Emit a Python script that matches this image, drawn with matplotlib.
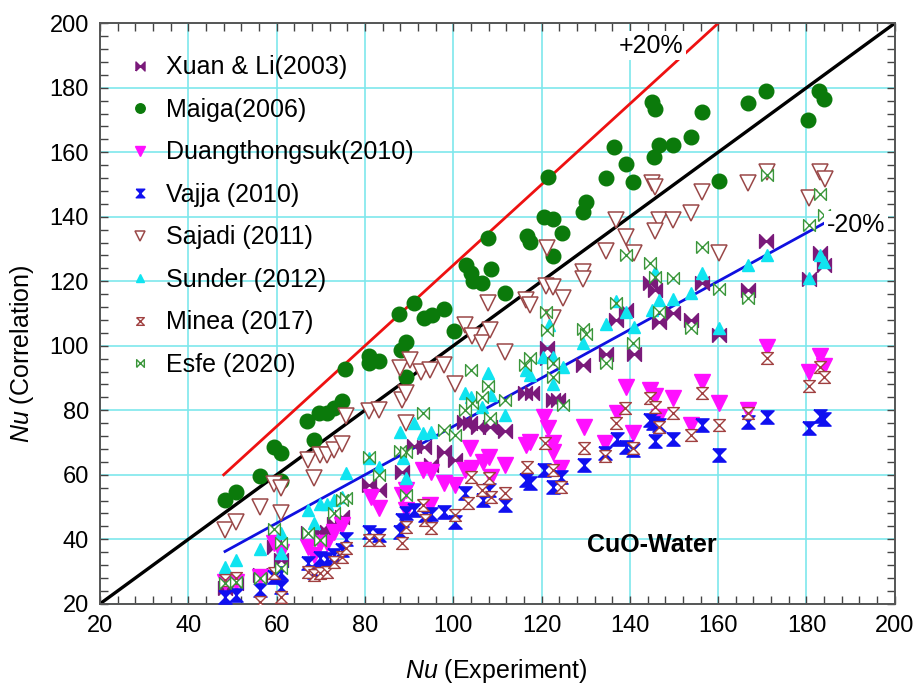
import matplotlib
matplotlib.use('Agg')
import matplotlib.pyplot as plt
from matplotlib.ticker import MultipleLocator

plt.rcParams['font.family'] = ['Liberation Sans', 'DejaVu Sans']
plt.rcParams['mathtext.fontset'] = 'custom'
plt.rcParams['mathtext.it'] = 'Liberation Sans:italic'
plt.rcParams['mathtext.rm'] = 'Liberation Sans'

# ---- Nu (experiment) vs Nu (correlation), CuO-water ----
xuan_x = [48.3, 50.8, 56.2, 59.4, 61.0, 67.0, 69.8, 71.5, 73.0, 74.9, 81.0, 83.2, 88.3, 91.1,
          93.4, 95.0, 97.8, 100.3, 102.4, 103.8, 105.7, 108.3, 111.7, 116.3, 117.8, 121.2,
          121.2, 122.5, 123.8, 129.4, 134.6, 136.9, 139.1, 141.0, 144.6, 145.7, 146.7, 149.7,
          153.8, 156.3, 160.1, 166.8, 170.8, 180.5, 183.1, 184.0]
xuan_y = [24.8, 26.4, 28.9, 37.7, 33.6, 41.9, 42.4, 42.4, 44.7, 47.0, 56.8, 55.3, 61.0, 68.9,
          68.7, 63.0, 67.2, 64.6, 76.5, 76.0, 74.9, 74.9, 73.6, 85.5, 85.5, 99.2,
          96.1, 83.2, 83.2, 94.0, 97.5, 108.0, 111.1, 97.5, 119.4, 117.3, 107.5, 110.1,
          108.0, 119.4, 103.3, 117.3, 132.6, 120.6, 128.7, 125.0]

maiga_x = [48.3, 50.8, 56.2, 59.4, 61.0, 61.0, 66.8, 68.5, 69.7, 71.3, 73.0, 74.9, 75.5, 81.0,
           81.0, 83.2, 87.7, 88.1, 89.4, 89.2, 91.2, 93.4, 95.1, 97.8, 100.2, 102.8, 104.0,
           104.4, 106.4, 107.9, 108.6, 111.7, 116.6, 117.4, 120.6, 121.4, 122.5, 122.5, 124.7,
           129.4, 130.0, 134.5, 136.4, 139.1, 140.8, 144.9, 145.7, 145.5, 146.7, 149.7, 153.8,
           156.3, 160.1, 166.7, 170.8, 180.4, 182.9, 184.0]
maiga_y = [52.1, 54.8, 59.6, 68.7, 66.7, 58.2, 76.7, 70.8, 79.1, 79.1, 80.6, 82.9, 92.7, 96.8,
           94.6, 95.3, 109.9, 98.7, 101.3, 90.4, 113.2, 108.5, 109.5, 111.3, 104.7, 125.0, 122.5,
           120.2, 119.6, 133.3, 123.7, 116.3, 134.0, 132.3, 139.8, 152.4, 139.2, 127.8, 135.1,
           141.6, 144.5, 152.0, 161.7, 156.4, 150.9, 175.7, 173.3, 158.5, 162.3, 162.3, 164.8,
           172.6, 151.1, 175.2, 179.1, 170.0, 179.0, 176.5]

duang_x = [48.3, 50.8, 56.2, 59.4, 61.0, 67.0, 68.5, 69.8, 71.5, 73.0, 74.9, 81.3, 83.2, 88.3,
           89.4, 89.2, 93.2, 94.9, 94.7, 97.8, 100.3, 102.7, 104.2, 103.9, 106.7, 108.2, 108.6,
           111.7, 116.5, 117.4, 120.6, 121.4, 122.7, 122.5, 124.5, 129.5, 134.4, 137.0, 139.1,
           140.8, 144.6, 145.7, 146.7, 149.8, 153.8, 156.3, 160.1, 166.8, 171.0, 180.5, 183.1,
           184.0]
duang_y = [26.9, 26.9, 28.4, 38.8, 36.2, 37.7, 35.1, 39.0, 39.0, 42.4, 44.4, 53.2, 49.6, 53.7,
           55.3, 49.1, 61.5, 61.0, 50.6, 57.4, 56.8, 61.5, 62.0, 68.2, 64.1, 65.6, 59.4,
           63.0, 69.2, 70.3, 78.0, 74.4, 69.8, 67.2, 62.0, 74.9, 69.8, 79.0, 87.3,
           73.1, 86.3, 84.4, 78.0, 83.7, 75.4, 88.9, 82.2, 80.1, 99.7, 92.0, 96.8,
           93.7]

vajja_x = [48.3, 50.8, 56.2, 59.4, 61.0, 61.0, 67.0, 68.5, 69.8, 71.5, 73.0, 74.9, 75.7, 81.0,
           83.2, 88.0, 88.3, 89.4, 91.2, 93.5, 94.9, 97.9, 100.3, 102.7, 106.7, 108.2, 111.7,
           116.5, 117.4, 120.6, 122.5, 124.5, 129.5, 134.4, 137.0, 139.1, 140.8, 144.6, 145.3,
           145.7, 146.7, 149.7, 156.3, 160.1, 166.8, 171.0, 180.5, 183.1, 184.0]
vajja_y = [22.2, 22.7, 24.3, 28.4, 29.5, 25.3, 32.6, 30.0, 34.1, 33.8, 35.1, 36.7, 40.0, 42.4,
           41.3, 42.4, 46.0, 48.1, 49.1, 47.5, 47.8, 48.6, 45.5, 54.3, 52.2, 55.3, 50.6,
           58.4, 57.4, 61.5, 56.3, 59.4, 63.0, 66.7, 71.0, 68.7, 67.7, 77.0, 76.0,
           70.4, 75.4, 71.0, 75.4, 66.1, 76.5, 78.0, 74.4, 78.2, 77.2]

sajadi_x = [48.3, 50.8, 56.2, 59.4, 61.0, 61.0, 67.0, 68.5, 69.8, 71.5, 73.0, 74.9, 75.7, 81.0,
            83.2, 88.3, 89.4, 89.2, 88.0, 90.2, 92.8, 94.7, 97.8, 100.3, 102.7, 104.2, 106.4,
            108.3, 107.9, 111.7, 116.5, 117.4, 121.2, 120.9, 122.5, 122.5, 124.8, 129.4, 129.4,
            134.6, 136.9, 139.1, 141.0, 144.9, 145.7, 146.5, 145.7, 149.7, 153.8, 156.4, 160.1,
            166.8, 171.0, 180.5, 183.1, 184.2]
sajadi_y = [42.9, 45.5, 50.1, 57.1, 55.8, 48.1, 64.6, 58.9, 66.1, 66.1, 67.7, 69.6, 78.2, 79.8,
            80.1, 83.2, 85.5, 76.0, 93.0, 95.6, 92.0, 92.5, 94.0, 88.2, 106.4, 103.0, 100.8,
            104.9, 113.2, 98.2, 114.2, 112.6, 130.2, 118.5, 118.3, 108.5, 114.7, 123.0, 120.6,
            129.5, 139.0, 133.6, 128.7, 150.6, 149.1, 139.0, 135.7, 139.0, 141.1, 147.8, 128.7,
            150.4, 154.0, 145.7, 154.0, 151.6]

sunder_x = [48.3, 50.8, 56.2, 61.0, 61.0, 67.0, 68.5, 69.8, 71.5, 73.0, 74.9, 75.7, 81.0, 83.2,
            88.0, 88.7, 89.4, 91.2, 93.2, 94.9, 102.7, 104.0, 106.5, 108.6, 107.9, 111.7, 116.5,
            117.4, 120.4, 121.6, 122.5, 124.8, 122.5, 129.4, 134.6, 136.9, 139.1, 141.0, 145.7,
            144.9, 146.7, 149.7, 153.8, 156.3, 160.1, 166.8, 171.0, 180.5, 183.1, 184.0]
sunder_y = [31.5, 33.6, 36.9, 41.9, 35.7, 49.1, 45.0, 51.0, 51.0, 52.2, 53.2, 60.6, 65.1, 62.5,
            73.4, 65.1, 58.9, 76.2, 72.9, 73.4, 85.3, 84.2, 81.1, 84.7, 91.7, 78.5, 92.5,
            90.9, 96.6, 106.5, 96.6, 93.5, 88.2, 100.8, 106.7, 114.0, 110.6, 105.7, 122.8,
            111.1, 114.2, 114.4, 116.5, 122.7, 105.4, 125.1, 128.2, 120.9, 128.2, 126.1]

minea_x = [48.3, 50.8, 56.2, 59.4, 61.0, 67.0, 68.5, 69.8, 71.5, 73.0, 74.9, 75.7, 81.0, 83.2,
           88.3, 89.4, 93.6, 93.2, 95.0, 100.3, 103.3, 104.0, 106.4, 108.2, 108.6, 111.7, 116.6,
           120.8, 122.5, 124.5, 129.5, 134.4, 136.9, 139.0, 140.8, 144.6, 145.7, 146.7, 149.7,
           153.8, 156.3, 160.1, 166.8, 171.0, 180.5, 183.1, 184.0]
minea_y = [27.5, 28.0, 20.6, 29.5, 22.2, 30.0, 28.9, 29.5, 30.0, 33.0, 34.6, 37.2, 39.8, 39.8,
           38.8, 43.9, 46.0, 50.6, 43.4, 47.5, 51.2, 59.4, 55.3, 58.9, 53.2, 54.3, 62.3,
           70.0, 61.5, 56.3, 68.2, 65.8, 76.0, 80.6, 68.2, 83.7, 81.1, 74.9, 79.1,
           72.3, 85.5, 75.4, 79.1, 96.1, 87.5, 93.5, 90.4]

esfe_x = [48.3, 50.8, 56.2, 59.4, 61.0, 61.0, 67.0, 69.8, 73.0, 74.9, 75.7, 81.0, 83.2, 88.0,
          89.4, 89.3, 93.2, 97.8, 100.3, 102.7, 104.0, 104.2, 106.4, 107.9, 108.3, 111.7, 116.3,
          117.4, 120.9, 121.2, 122.5, 122.5, 124.8, 129.3, 130.0, 134.6, 136.9, 139.1, 140.8,
          144.6, 145.7, 146.7, 149.7, 153.8, 156.3, 160.1, 166.8, 171.0, 180.5, 183.1, 184.0]
esfe_y = [26.4, 26.9, 27.9, 43.1, 38.8, 31.0, 41.9, 39.8, 48.1, 52.2, 52.7, 65.6, 59.9, 67.5,
          67.2, 53.7, 79.1, 73.9, 72.3, 80.1, 92.5, 82.2, 84.2, 87.5, 77.5, 83.2, 94.0,
          96.1, 110.6, 104.9, 94.6, 90.4, 81.6, 105.1, 103.7, 94.8, 113.4, 128.2, 100.8,
          125.8, 121.4, 110.6, 120.9, 105.4, 130.7, 117.5, 114.7, 153.0, 137.5, 147.1, 140.5]

# bowtie (left/right triangles) and hourglass (top/bottom triangles)
BOWTIE = [(-1, -1), (1, 1), (1, -1), (-1, 1), (-1, -1)]
HOURGLASS = [(-1, 1), (1, 1), (-1, -1), (1, -1), (-1, 1)]

series = [
    ('Xuan & Li(2003)',     xuan_x,   xuan_y,   dict(marker=BOWTIE, ms=10, mfc='#7a1a7a', mec='#7a1a7a')),
    ('Maiga(2006)',         maiga_x,  maiga_y,  dict(marker='o', ms=10.5, mfc='#0b7a0b', mec='#0b7a0b')),
    ('Duangthongsuk(2010)', duang_x,  duang_y,  dict(marker='v', ms=11, mfc='#ff10ff', mec='#ff10ff')),
    ('Vajja (2010)',        vajja_x,  vajja_y,  dict(marker=HOURGLASS, ms=9.5, mfc='#1010f0', mec='#1010f0')),
    ('Sajadi (2011)',       sajadi_x, sajadi_y, dict(marker='v', ms=11, mfc='white', mec='#9a4848', mew=1.1)),
    ('Sunder (2012)',       sunder_x, sunder_y, dict(marker='^', ms=9, mfc='#10e4f0', mec='#10e4f0')),
    ('Minea (2017)',        minea_x,  minea_y,  dict(marker=HOURGLASS, ms=8.5, mfc='white', mec='#a04040', mew=1.0)),
    ('Esfe (2020)',         esfe_x,   esfe_y,   dict(marker=BOWTIE, ms=8.5, mfc='white', mec='#3a963a', mew=1.0)),
]

fig = plt.figure(figsize=(9.18, 6.94), dpi=100)
ax = fig.add_axes([0.109, 0.130, 0.8657, 0.8365])

# reference lines
ax.plot([20, 200], [20, 200], color='black', lw=2.4, zorder=2)
ax.plot([48, 160], [60, 200], color='#ee1111', lw=2.0, zorder=2)
ax.plot([48.3, 184], [48.3 * 0.75, 184 * 0.75], color='#1010e0', lw=2.0, zorder=2)

for i, (label, xs, ys, style) in enumerate(series):
    ax.plot(xs, ys, linestyle='none', label=label, zorder=3 + i, **style)

ax.set_xlim(20, 200)
ax.set_ylim(20, 200)
ax.xaxis.set_major_locator(MultipleLocator(20))
ax.yaxis.set_major_locator(MultipleLocator(20))
ax.xaxis.set_minor_locator(MultipleLocator(4))
ax.yaxis.set_minor_locator(MultipleLocator(4))
ax.tick_params(which='both', direction='in', top=True, right=True,
               length=6, width=1, color='#444444')
ax.tick_params(which='major', labelsize=17, pad=8)
for sp in ax.spines.values():
    sp.set_color('#555555')
    sp.set_linewidth(1.4)
ax.grid(True, which='major', color='#7ee8ec', lw=1.2, zorder=0)
ax.set_axisbelow(True)

ax.set_xlabel(r'$Nu$ (Experiment)', fontsize=18)
ax.set_ylabel(r'$Nu$ (Correlation)', fontsize=18)
ax.xaxis.set_label_coords(0.498, -0.092)
ax.yaxis.set_label_coords(-0.080, 0.43)

ax.text(144.8, 193, '+20%', fontsize=18, ha='center', va='center', zorder=20,
        bbox=dict(boxstyle='square,pad=0.1', fc='white', ec='none'))
ax.text(191.2, 137.4, '-20%', fontsize=18, ha='center', va='center', zorder=20,
        bbox=dict(boxstyle='square,pad=0.1', fc='white', ec='none'))
ax.text(145, 38.2, 'CuO-Water', fontsize=18, fontweight='bold', ha='center', va='center',
        zorder=20)

ax.legend(loc='upper left', bbox_to_anchor=(0.022, 0.962), frameon=False, fontsize=18,
          markerscale=0.65, handlelength=1.0, handletextpad=0.55, labelspacing=0.74,
          borderaxespad=0)

plt.savefig('out.png', dpi=100)
